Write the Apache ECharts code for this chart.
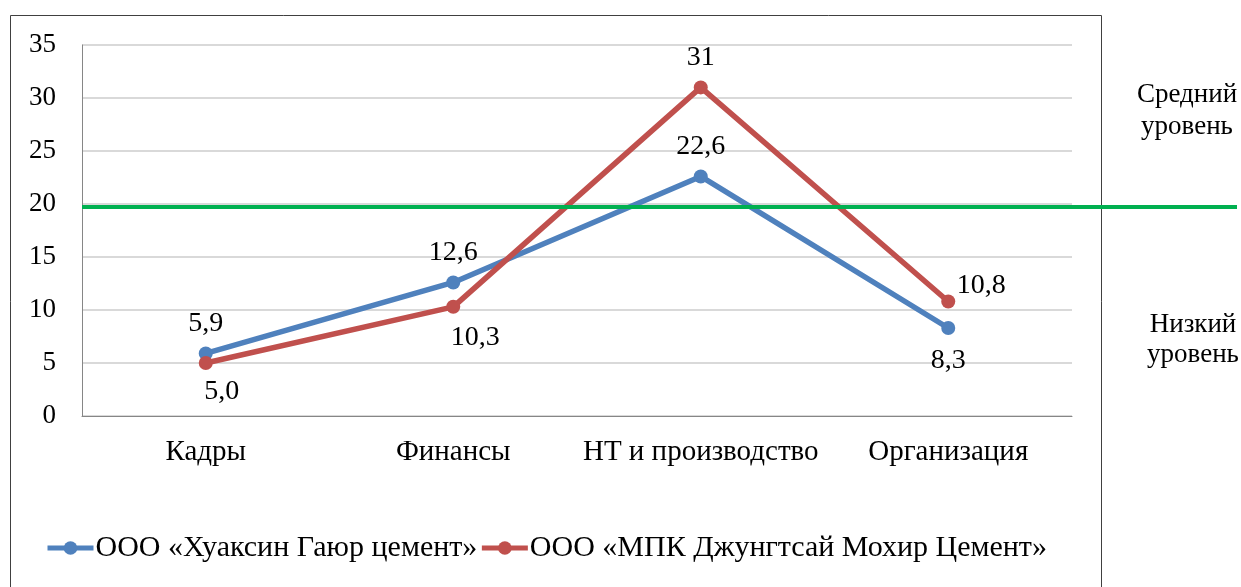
<!DOCTYPE html>
<html>
<head>
<meta charset="utf-8">
<script src="https://cdn.jsdelivr.net/npm/echarts@6/dist/echarts.min.js"></script>
<style>
  html, body { margin: 0; padding: 0; background: #fff; }
  #chart { width: 1241px; height: 587px; }
</style>
</head>
<body>
<div id="chart"></div>
<script>
  // категории и значения
  var categories = ['Кадры', 'Финансы', 'НТ и производство', 'Организация'];
  var huaxinName = 'ООО «Хуаксин Гаюр цемент»';
  var huaxinValues = [5.9, 12.6, 22.6, 8.3];
  var mpkName = 'ООО «МПК Джунгтсай Мохир Цемент»';
  var mpkValues = [5.0, 10.3, 31, 10.8];
  var mpkLabels = ['5,0', '10,3', '31', '10,8'];
  var levelValue = 19.7;
  var yTicks = [0, 5, 10, 15, 20, 25, 30, 35];

  var font = '"Liberation Serif", "DejaVu Serif", serif';
  var blue = '#4f81bd';
  var red = '#c0504d';

  var huaxinPos = ['top', 'top', 'top', 'bottom'];
  var mpkPos = [['bottom', [16, -1]], ['bottom', [22, 1]], ['top', [0, 0]], ['top', [33, 14]]];

  var chart = echarts.init(document.getElementById('chart'));

  chart.setOption({
    backgroundColor: '#fff',
    animation: false,
    textStyle: { fontFamily: font },
    graphic: [
      {
        type: 'rect',
        shape: { x: 10.5, y: 15.5, width: 1091, height: 600 },
        style: { fill: 'none', stroke: '#404040', lineWidth: 1 },
        z: -1
      },
      {
        type: 'text', x: 1187, y: 111,
        style: { text: 'Средний\nуровень', fill: '#000', font: '27px ' + font, lineHeight: 32, textAlign: 'center', textVerticalAlign: 'middle' }
      },
      {
        type: 'text', x: 1193, y: 340,
        style: { text: 'Низкий\nуровень', fill: '#000', font: '27px ' + font, lineHeight: 30, textAlign: 'center', textVerticalAlign: 'middle' }
      }
    ],
    legend: {
      bottom: 19,
      left: 40,
      itemWidth: 46,
      itemHeight: 17,
      itemGap: 2,
      lineStyle: { width: 5 },
      textStyle: { fontFamily: font, fontSize: 30, color: '#000', padding: [0, 0, 0, -3] },
      data: [huaxinName, mpkName]
    },
    grid: [
      { left: 82, right: 169, top: 45, bottom: 171 },
      { left: 82, right: 4, top: 45, bottom: 171 }
    ],
    xAxis: [
      {
        type: 'category',
        data: categories,
        gridIndex: 0,
        axisLine: { lineStyle: { color: '#868686', width: 1 } },
        axisTick: { show: false },
        axisLabel: { color: '#000', fontSize: 29, fontFamily: font, margin: 22, interval: 0 }
      },
      { type: 'value', gridIndex: 1, min: 0, max: 1, show: false }
    ],
    yAxis: [
      {
        type: 'value',
        gridIndex: 0,
        min: yTicks[0],
        max: yTicks[yTicks.length - 1],
        interval: 5,
        axisLine: { show: true, lineStyle: { color: '#868686', width: 1 } },
        axisTick: { show: false },
        splitLine: { lineStyle: { color: '#d9d9d9', width: 2 } },
        axisLabel: { color: '#000', fontSize: 27, fontFamily: font, margin: 26 }
      },
      { type: 'value', gridIndex: 1, min: yTicks[0], max: yTicks[yTicks.length - 1], show: false }
    ],
    series: [
      {
        name: huaxinName,
        type: 'line',
        xAxisIndex: 0,
        yAxisIndex: 0,
        data: huaxinValues.map(function (v, i) {
          return {
            value: v,
            label: { position: huaxinPos[i], distance: huaxinPos[i] === 'bottom' ? 12 : 9 }
          };
        }),
        color: blue,
        lineStyle: { width: 5.5, color: blue },
        symbol: 'circle',
        symbolSize: 14,
        itemStyle: { color: blue },
        label: {
          show: true,
          fontSize: 28,
          fontFamily: font,
          color: '#000',
          distance: 9,
          formatter: function (p) { return String(p.value).replace('.', ','); }
        },
        z: 3
      },
      {
        name: mpkName,
        type: 'line',
        xAxisIndex: 0,
        yAxisIndex: 0,
        data: mpkValues.map(function (v, i) {
          return {
            value: v,
            label: { position: mpkPos[i][0], offset: mpkPos[i][1], formatter: mpkLabels[i] }
          };
        }),
        color: red,
        lineStyle: { width: 5.5, color: red },
        symbol: 'circle',
        symbolSize: 14,
        itemStyle: { color: red },
        label: {
          show: true,
          fontSize: 28,
          fontFamily: font,
          color: '#000',
          distance: 9
        },
        z: 4
      },
      {
        name: 'level',
        type: 'line',
        xAxisIndex: 1,
        yAxisIndex: 1,
        data: [],
        markLine: {
          silent: true,
          symbol: 'none',
          label: { show: false },
          lineStyle: { color: '#00b050', width: 4, type: 'solid' },
          data: [{ yAxis: levelValue }]
        }
      }
    ]
  });
</script>
</body>
</html>
